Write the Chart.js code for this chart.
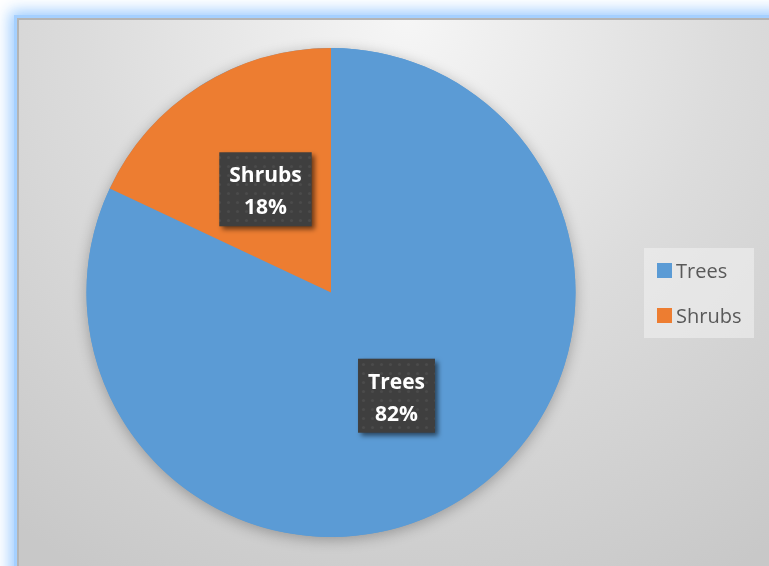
<!DOCTYPE html>
<html>
<head>
<meta charset="utf-8">
<script src="https://cdn.jsdelivr.net/npm/chart.js@4/dist/chart.umd.min.js"></script>
<style>
  html, body { margin: 0; padding: 0; background: #ffffff; overflow: hidden; width: 769px; height: 566px; }
  #plot {
    position: absolute; left: 17px; top: 18px;
    box-shadow: 0 0 0 3px rgb(165, 208, 255), 0 0 14px 7px rgba(150, 200, 255, 0.95);
  }
</style>
</head>
<body>
<canvas id="plot" width="760" height="560"></canvas>
<script>
// Plant cover shares
const categories = ['Trees', 'Shrubs'];
const shares = [82, 18];
const sliceColors = ['#5B9BD5', '#ED7D31'];

// Gray radial backdrop with a thin frame on the top and left edges
const backdrop = {
  id: 'backdrop',
  beforeDraw(chart) {
    const { ctx, width, height } = chart;
    ctx.save();
    const g = ctx.createRadialGradient(390, 0, 0, 390, 0, 640);
    g.addColorStop(0, '#f6f6f6');
    g.addColorStop(0.5, '#dcdcdc');
    g.addColorStop(1, '#c8c8c8');
    ctx.fillStyle = g;
    ctx.fillRect(0, 0, width, height);
    ctx.fillStyle = '#b4b4b4';
    ctx.fillRect(0, 0, width, 2);
    ctx.fillRect(0, 0, 2, height);
    ctx.restore();
  }
};

// Soft shadow underneath the whole pie
const pieShadow = {
  id: 'pieShadow',
  beforeDatasetsDraw(chart) {
    const arc = chart.getDatasetMeta(0).data[0];
    if (!arc) return;
    const ctx = chart.ctx;
    ctx.save();
    ctx.shadowColor = 'rgba(0,0,0,0.28)';
    ctx.shadowBlur = 14;
    ctx.shadowOffsetY = 3;
    ctx.fillStyle = sliceColors[0];
    ctx.beginPath();
    ctx.arc(arc.x, arc.y, arc.outerRadius, 0, Math.PI * 2);
    ctx.fill();
    ctx.restore();
  }
};

// Dotted dark fill for the value callouts
function makeDotPattern(ctx) {
  const c = document.createElement('canvas');
  c.width = 9; c.height = 9;
  const p = c.getContext('2d');
  p.fillStyle = '#3f3f3f';
  p.fillRect(0, 0, 9, 9);
  p.fillStyle = '#4b4b4b';
  p.beginPath();
  p.arc(4.5, 4.5, 1.6, 0, Math.PI * 2);
  p.fill();
  return ctx.createPattern(c, 'repeat');
}

// Category name and percentage in a dark box at each slice's mid radius
const sliceLabels = {
  id: 'sliceLabels',
  afterDatasetsDraw(chart) {
    const ctx = chart.ctx;
    const meta = chart.getDatasetMeta(0);
    const values = chart.data.datasets[0].data;
    const total = values.reduce((a, b) => a + b, 0);
    const fill = makeDotPattern(ctx);
    ctx.save();
    ctx.font = 'bold 21px "Open Sans"';
    meta.data.forEach((arc, i) => {
      const pos = arc.tooltipPosition();
      const name = chart.data.labels[i];
      const pct = Math.round(values[i] / total * 100) + '%';
      const w = Math.max(ctx.measureText(name).width, ctx.measureText(pct).width) + 20;
      const h = 74;
      const x0 = pos.x - w / 2;
      const y0 = pos.y - h / 2;
      ctx.save();
      ctx.shadowColor = 'rgba(0,0,0,0.55)';
      ctx.shadowBlur = 5;
      ctx.shadowOffsetX = 3;
      ctx.shadowOffsetY = 3;
      ctx.fillStyle = fill;
      ctx.fillRect(x0, y0, w, h);
      ctx.restore();
      ctx.fillStyle = '#ffffff';
      ctx.textAlign = 'center';
      ctx.textBaseline = 'alphabetic';
      ctx.fillText(name, pos.x, y0 + 30);
      ctx.fillText(pct, pos.x, y0 + 62);
    });
    ctx.restore();
  }
};

// Legend panel on the right
const sideLegend = {
  id: 'sideLegend',
  afterDraw(chart) {
    const ctx = chart.ctx;
    ctx.save();
    ctx.fillStyle = 'rgba(240,240,240,0.6)';
    ctx.fillRect(627, 230, 110, 90);
    ctx.font = '20px "Open Sans"';
    ctx.textAlign = 'left';
    ctx.textBaseline = 'alphabetic';
    chart.data.labels.forEach((name, i) => {
      const top = 245 + i * 45;
      ctx.fillStyle = chart.data.datasets[0].backgroundColor[i];
      ctx.fillRect(640, top, 15, 15);
      ctx.fillStyle = '#595959';
      ctx.fillText(name, 659, top + 15);
    });
    ctx.restore();
  }
};

new Chart(document.getElementById('plot'), {
  type: 'pie',
  data: {
    labels: categories,
    datasets: [{
      data: shares,
      backgroundColor: sliceColors,
      borderWidth: 0
    }]
  },
  options: {
    responsive: false,
    animation: false,
    layout: { padding: { left: 69.5, right: 201.5, top: 30, bottom: 41 } },
    plugins: {
      legend: { display: false },
      tooltip: { enabled: false }
    }
  },
  plugins: [backdrop, pieShadow, sliceLabels, sideLegend]
});
</script>
</body>
</html>
